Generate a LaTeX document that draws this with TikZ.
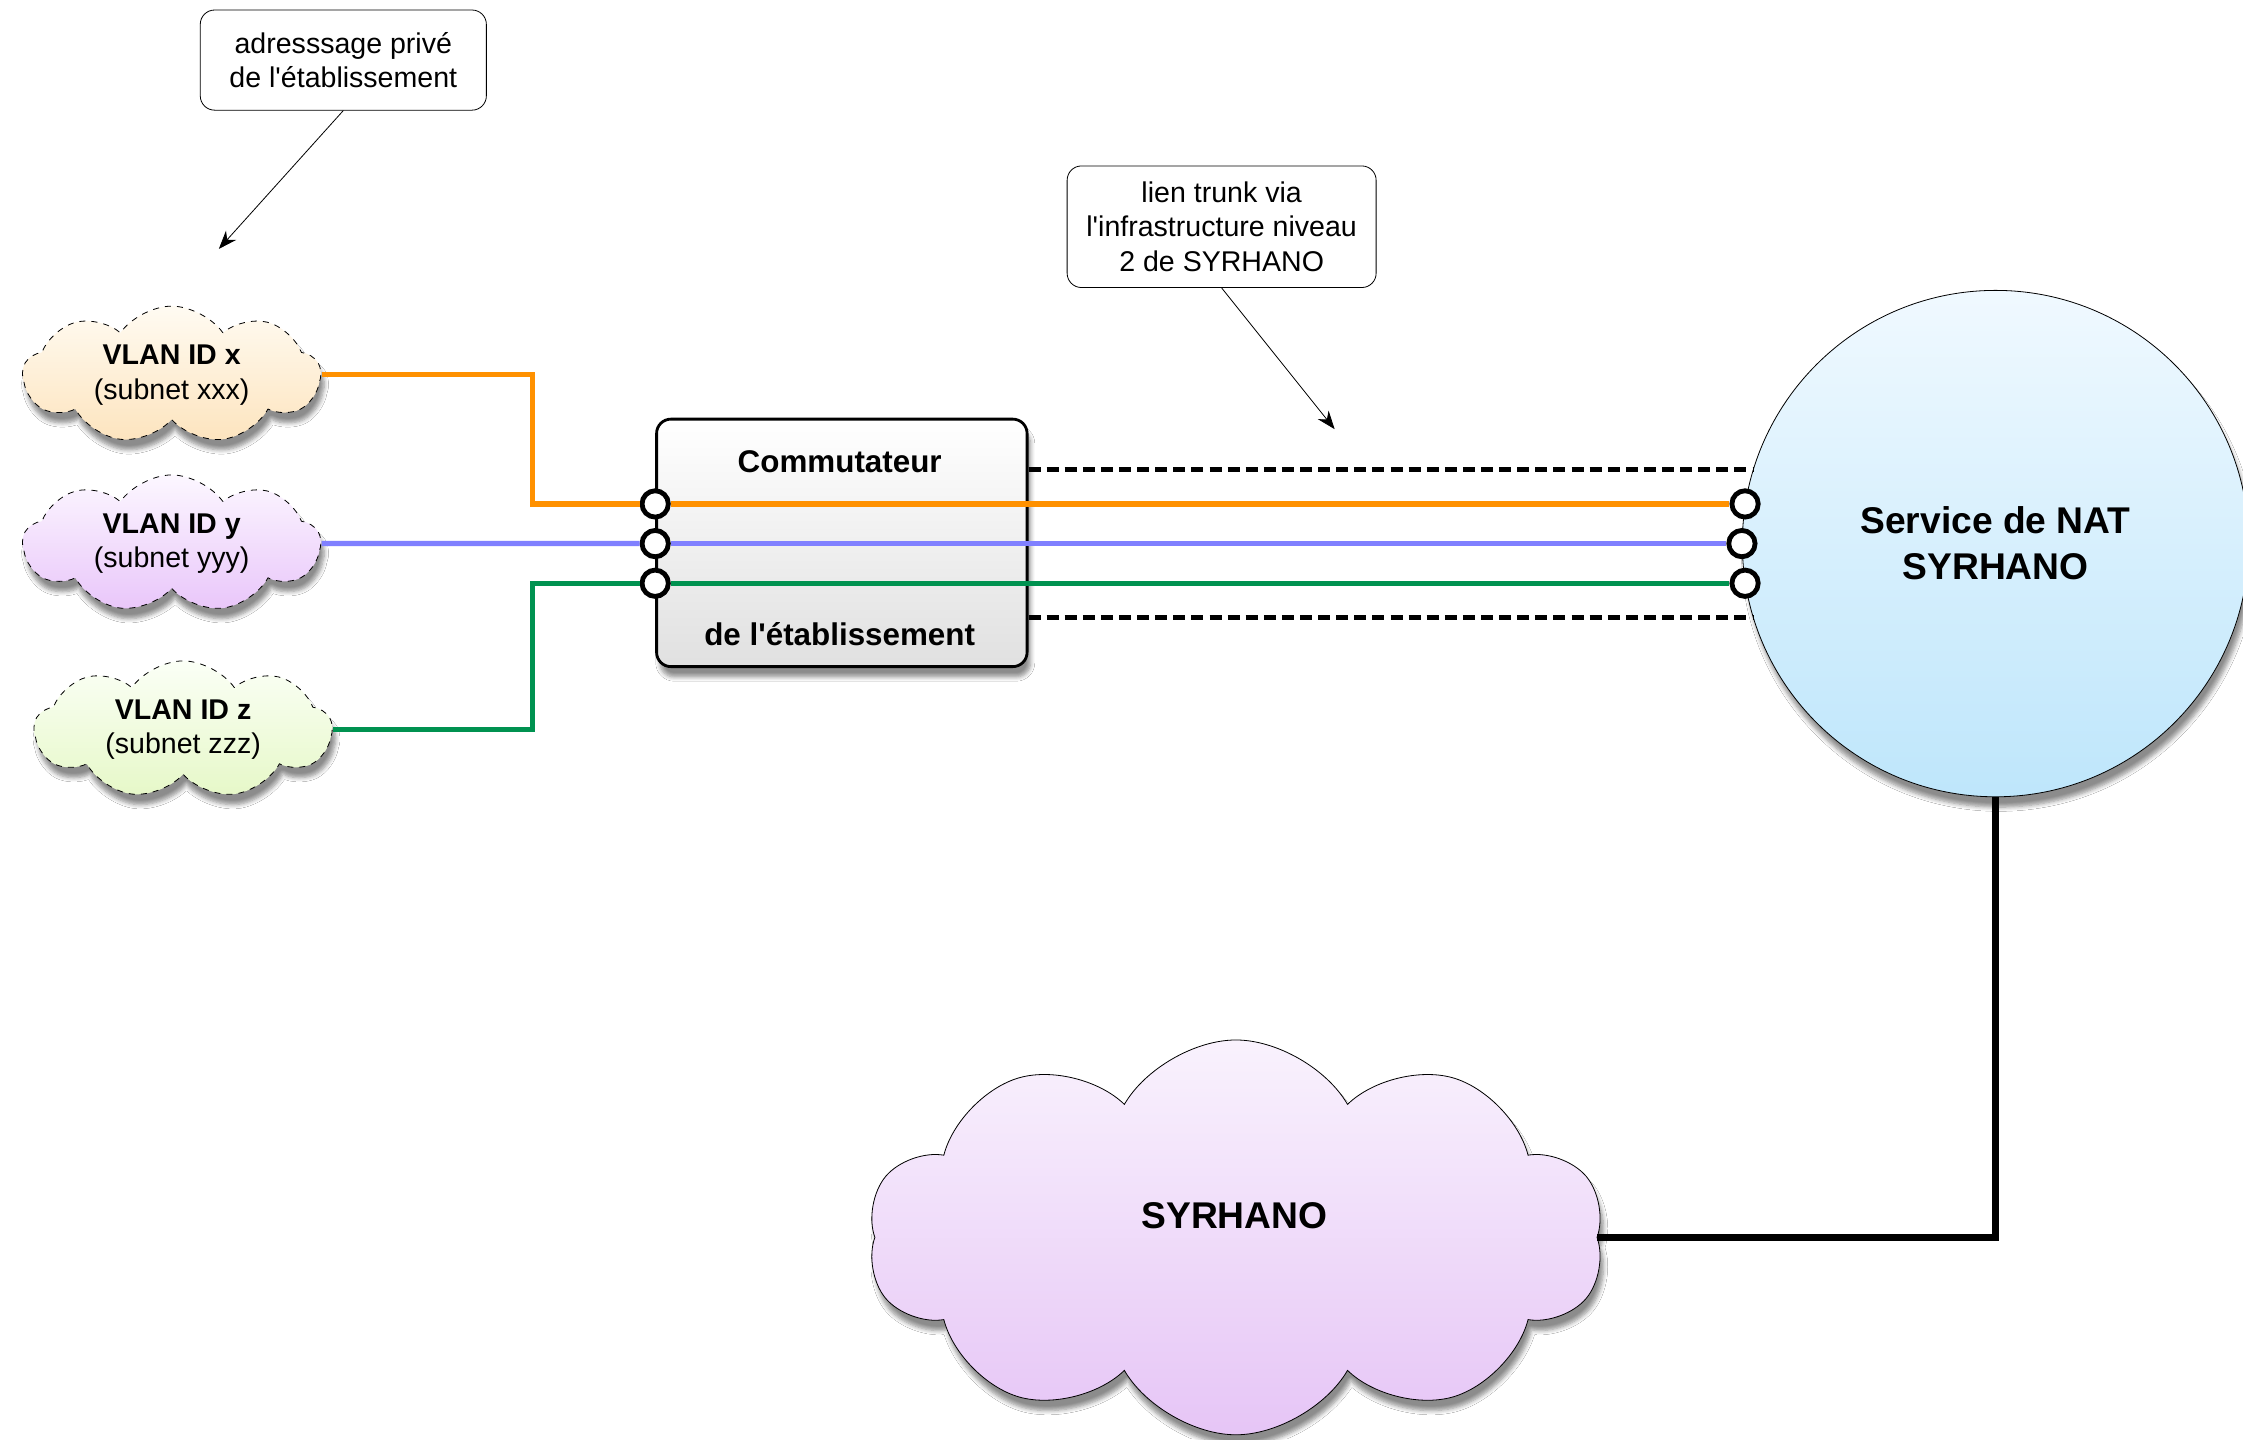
\documentclass[tikz,border=0pt]{standalone}
\usepackage{fontspec}
\setmainfont{Liberation Sans}
\usetikzlibrary{shapes.symbols, shadows, shadows.blur, arrows.meta}

\definecolor{vlanorange}{RGB}{255,145,0}
\definecolor{vlanblue}{RGB}{128,128,255}
\definecolor{vlangreen}{RGB}{0,146,80}
\definecolor{xtop}{RGB}{255,251,242}
\definecolor{xbot}{RGB}{253,228,190}
\definecolor{ytop}{RGB}{252,247,255}
\definecolor{ybot}{RGB}{233,198,250}
\definecolor{ztop}{RGB}{251,255,246}
\definecolor{zbot}{RGB}{230,248,200}
\definecolor{nattop}{RGB}{240,249,255}
\definecolor{natbot}{RGB}{190,230,251}
\definecolor{syrtop}{RGB}{249,242,253}
\definecolor{syrbot}{RGB}{230,197,246}

\tikzset{
  softshadow/.style={blur shadow={shadow blur steps=6, shadow xshift=0.6mm, shadow yshift=-1.8mm, shadow opacity=45}},
  note/.style={draw, thin, rounded corners=2.5mm, fill=white, align=center, inner sep=0pt,
    font=\fontsize{14.2}{17.3}\selectfont},
  vlan/.style={cloud, cloud puffs=9, cloud puff arc=110, cloud ignores aspect, draw, dashed, thin,
    align=center, inner sep=0pt, minimum width=5.2cm, minimum height=2.4cm, softshadow,
    font=\fontsize{14.2}{17.3}\selectfont},
  port/.style={circle, draw, line width=2.4pt, fill=white, inner sep=0pt, minimum size=0.46cm},
  link/.style={line width=2.6pt},
  trunk/.style={line width=2.6pt, dash pattern=on 6pt off 3pt},
  boldtext/.style={font=\fontsize{15.6}{18}\selectfont\bfseries}
}

\begin{document}
\begin{tikzpicture}[x=0.25mm, y=-0.25mm]

\path [use as bounding box, fill=white] (0,0) rectangle (1568,1006);

%%%%%%%%%%%%%%%%%%%%%%%%%%%%%%%%%%%%%%%%%%%%%%%%%%%%%%%%%%%%%%%%
% Notes
%%%%%%%%%%%%%%%%%%%%%%%%%%%%%%%%%%%%%%%%%%%%%%%%%%%%%%%%%%%%%%%%

\node [note, minimum width=5cm, minimum height=1.75cm] (prive) at (240,42)
    {adresssage privé\\de l\textquotesingle établissement};
\coordinate (privetip) at (153,174);
\draw [-{Stealth[length=3.2mm, width=2.4mm]}] (prive.south) to (privetip);

\node [note, minimum width=5.4cm, minimum height=2.125cm] (trunknote) at (854,158.5)
    {lien trunk via\\l\textquotesingle infrastructure niveau\\2 de SYRHANO};
\coordinate (trunktip) at (933,300);
\draw [-{Stealth[length=3.2mm, width=2.4mm]}] (trunknote.south) to (trunktip);

%%%%%%%%%%%%%%%%%%%%%%%%%%%%%%%%%%%%%%%%%%%%%%%%%%%%%%%%%%%%%%%%
% VLANs
%%%%%%%%%%%%%%%%%%%%%%%%%%%%%%%%%%%%%%%%%%%%%%%%%%%%%%%%%%%%%%%%

\node [vlan, top color=xtop, bottom color=xbot] (vx) at (120,262)
    {\textbf{VLAN ID x}\\(subnet xxx)};
\node [vlan, top color=ytop, bottom color=ybot] (vy) at (120,380)
    {\textbf{VLAN ID y}\\(subnet yyy)};
\node [vlan, top color=ztop, bottom color=zbot] (vz) at (128,510)
    {\textbf{VLAN ID z}\\(subnet zzz)};

%%%%%%%%%%%%%%%%%%%%%%%%%%%%%%%%%%%%%%%%%%%%%%%%%%%%%%%%%%%%%%%%
% Switch and NAT
%%%%%%%%%%%%%%%%%%%%%%%%%%%%%%%%%%%%%%%%%%%%%%%%%%%%%%%%%%%%%%%%

\node [draw, line width=1.4pt, rounded corners=2.5mm, top color=white, bottom color=black!12,
    minimum width=6.475cm, minimum height=4.325cm, softshadow] (sw) at (588.5,379.5) {};
    \node [boldtext] (swtop) at (587,323) {Commutateur};
    \node [boldtext] (swbot) at (587,443) {de l\textquotesingle établissement};

\node [circle, draw, thin, top color=nattop, bottom color=natbot, minimum size=8.85cm,
    align=center, softshadow, font=\fontsize{18.5}{22.8}\selectfont\bfseries] (nat) at (1395,380)
    {Service de NAT\\SYRHANO};

%%%%%%%%%%%%%%%%%%%%%%%%%%%%%%%%%%%%%%%%%%%%%%%%%%%%%%%%%%%%%%%%
% SYRHANO
%%%%%%%%%%%%%%%%%%%%%%%%%%%%%%%%%%%%%%%%%%%%%%%%%%%%%%%%%%%%%%%%

\node [cloud, cloud puffs=10, cloud puff arc=120, cloud ignores aspect, draw, thin,
    top color=syrtop, bottom color=syrbot, minimum width=12.875cm, minimum height=6.9cm,
    inner sep=0pt, softshadow] (syr) at (864,865) {};
    \node [font=\fontsize{18.5}{22}\selectfont\bfseries] (syrlabel) at (863,850) {SYRHANO};

%%%%%%%%%%%%%%%%%%%%%%%%%%%%%%%%%%%%%%%%%%%%%%%%%%%%%%%%%%%%%%%%
% Edges
%%%%%%%%%%%%%%%%%%%%%%%%%%%%%%%%%%%%%%%%%%%%%%%%%%%%%%%%%%%%%%%%

% Trunk
\draw [trunk] (sw.east |- nat.163) to (nat.163);
\draw [trunk] (sw.east |- nat.197) to (nat.197);

% Ports
\node [port] (nat1) at (nat.171) {};
\node [port] (nat2) at (nat.180) {};
\node [port] (nat3) at (nat.189) {};
\node [port] (sw1) at (sw.west |- nat1) {};
\node [port] (sw2) at (sw.west |- nat2) {};
\node [port] (sw3) at (sw.west |- nat3) {};

% VLAN links
\coordinate (kink) at (372,0);
\draw [link, vlanorange] (vx.east) -- (vx.east -| kink) |- (sw1);
\draw [link, vlanorange] (sw1) to (nat1);
\draw [link, vlanblue] (vy.east) to (sw2);
\draw [link, vlanblue] (sw2) to (nat2);
\draw [link, vlangreen] (vz.east) -- (vz.east -| kink) |- (sw3);
\draw [link, vlangreen] (sw3) to (nat3);

% Uplink
\draw [line width=3.2pt] (nat.south) |- (syr.east);

\end{tikzpicture}
\end{document}
